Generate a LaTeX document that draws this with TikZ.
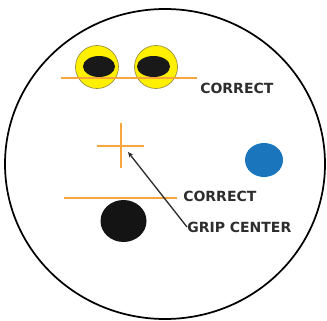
\documentclass[tikz,border=0pt]{standalone}
\usepackage{fontspec}
\newfontfamily\lblfont{DejaVu Sans}
\usetikzlibrary{arrows.meta}
\definecolor{GuideOrange}{RGB}{246,166,60}
\definecolor{RingYellow}{RGB}{255,240,0}
\definecolor{RingEdge}{RGB}{150,140,60}
\definecolor{DotBlue}{RGB}{27,117,188}
\definecolor{LabelGray}{RGB}{45,45,45}

\begin{document}
\begin{tikzpicture}[x=0.75pt,y=-0.75pt,
  lbl/.style={font=\lblfont\bfseries\fontsize{10.5}{12}\selectfont,text=LabelGray,inner sep=0pt,anchor=west},
  guide/.style={draw=GuideOrange,line width=1.2pt},
  ring/.style={fill=RingYellow,draw=RingEdge,line width=0.5pt},
  lead/.style={draw=LabelGray,line width=1pt,{Stealth[length=4pt,width=3.5pt]}-}]
\useasboundingbox (0,0) rectangle (327,320);

% ===== outline =====
\draw[line width=1.3pt] (165,164) ellipse [x radius=160,y radius=155];

% ===== top pair =====
\filldraw[ring] (97,67) circle [radius=21.5];
\filldraw[ring] (156,67) circle [radius=21.5];
\fill[black!90] (99,66.5) ellipse [x radius=16,y radius=10.5];
\fill[black!90] (153.5,66.5) ellipse [x radius=16.5,y radius=10.5];
\draw[guide] (61,78) -- (197,78);
\node[lbl] (c1) at (200,88.5) {CORRECT};

% ===== crosshair and dots =====
\draw[guide] (97,146) -- (144,146);
\draw[guide] (121,123) -- (121,168);
\coordinate (xc) at (128,152);
\fill[DotBlue] (264,160) ellipse [x radius=19,y radius=17];
\fill[black!92] (123.5,221) ellipse [x radius=23,y radius=21];
\draw[guide] (64,198) -- (177,198);
\node[lbl] (c2) at (183,196) {CORRECT};
\node[lbl] (gc) at (187,227) {GRIP CENTER};

% ===== leader =====
\draw[lead] (xc) -- (gc.west);
\end{tikzpicture}
\end{document}
